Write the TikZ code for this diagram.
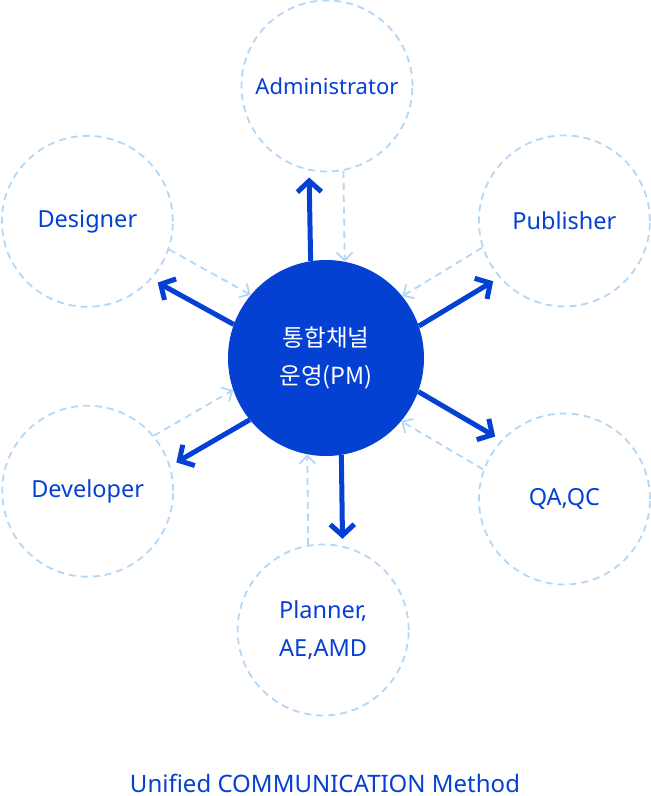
\documentclass[tikz,border=0pt]{standalone}
\usepackage{fontspec}
\setmainfont{Noto Sans}
\newfontfamily\krfont{Noto Sans CJK KR}
\usepackage{tikz}
\usetikzlibrary{positioning}
\usetikzlibrary{arrows.meta}
\usetikzlibrary{calc}
\definecolor{pmblue}{RGB}{4,64,210}
\definecolor{lineblue}{RGB}{180,215,245}

\begin{document}
\begin{tikzpicture}[x=1pt, y=1pt,
  role/.style={circle, draw=lineblue, line width=1.8pt, dash pattern=on 7pt off 5pt,
    minimum size=171pt, inner sep=0pt, text=pmblue, align=center},
  hub/.style={circle, fill=pmblue, minimum size=196pt, inner sep=0pt, text=white,
    align=center, font=\krfont\fontsize{23.5}{38}\selectfont},
  sendarrow/.style={pmblue, line width=5pt, -{Straight Barb[length=11pt,width=24pt]}, shorten >=7pt},
  backarrow/.style={lineblue, line width=1.8pt, dash pattern=on 7pt off 5pt,
    -{Straight Barb[length=8pt,width=16pt]}}]

  \useasboundingbox (0,0) rectangle (651,-796);

  \def\dA{10};
  \def\dB{11.5};

  %hub
  \node[hub] (pm) at (326,-358) {통합채널\\운영(PM)};

  %roles
  \foreach \ang/\dist/\fs/\name/\txt in {89.8/272/22/adm/Administrator, 150.2/275/23.5/des/Designer,
      29.9/275/23.5/pub/Publisher, 209.2/273/23.5/dev/Developer, -30.6/277/23.5/qa/{QA,QC},
      269.4/272/23.5/pln/{Planner,\\AE,AMD}}{
    \node[role, font=\fontsize{\fs}{38}\selectfont] (\name) at ($(pm)+(\ang:\dist)$) {\txt};
  }

  %arrows (out: solid, back: dashed)
  \foreach \ang/\sg/\name [evaluate=\ang as \aS using \ang+\sg*\dA, evaluate=\ang as \aE using \ang+180-\sg*\dB,
      evaluate=\ang as \bS using \ang+180+\sg*\dB, evaluate=\ang as \bE using \ang-\sg*\dA]
      in {89.8/1/adm, 150.2/1/des, 29.9/-1/pub, 209.2/1/dev, -30.6/1/qa, 269.4/1/pln}{
    \draw[sendarrow] (pm.\aS) -- (\name.\aE);
    \draw[backarrow] (\name.\bS) -- (pm.\bE);
  }

  %title
  \node[text=pmblue, font=\fontsize{24}{28}\selectfont, inner sep=0pt, anchor=base] (title) at (325,-792) {Unified COMMUNICATION Method};

\end{tikzpicture}
\end{document}
